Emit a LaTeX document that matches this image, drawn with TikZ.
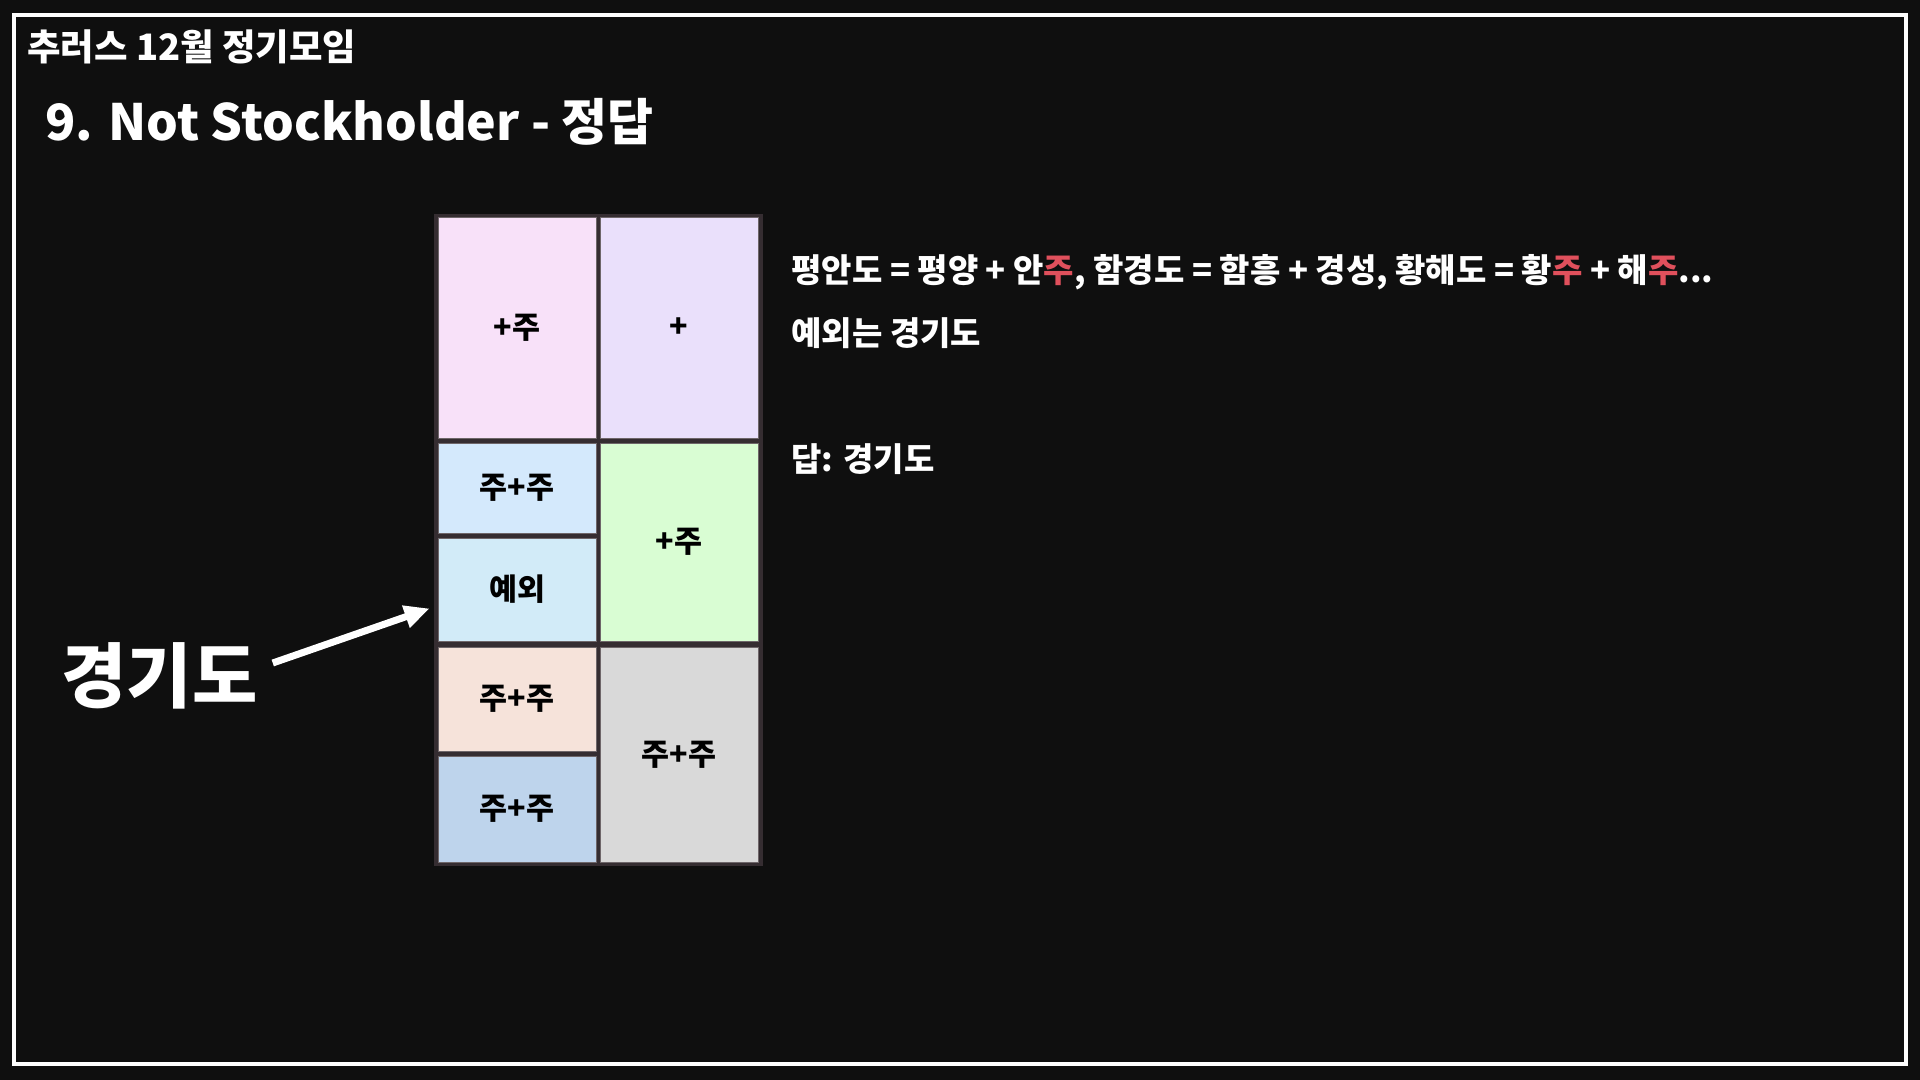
\documentclass[tikz,border=0pt]{standalone}
\usepackage{fontspec}
\setmainfont{Noto Sans CJK KR}
\usetikzlibrary{arrows.meta}
\definecolor{pagebg}{HTML}{0F0F0F}
\definecolor{gridbg}{HTML}{352D31}
\definecolor{cellline}{HTML}{6E6669}
\definecolor{cpink}{HTML}{F8E1F9}
\definecolor{clav}{HTML}{EAE0FB}
\definecolor{cblue}{HTML}{D4E9FC}
\definecolor{csky}{HTML}{D2EBF8}
\definecolor{cgreen}{HTML}{D9FDD3}
\definecolor{cpeach}{HTML}{F6E3DA}
\definecolor{csteel}{HTML}{BED4EC}
\definecolor{cgray}{HTML}{D9D9D9}
\definecolor{hired}{HTML}{E0505C}
\tikzset{
	cell/.style={draw=cellline, line width=0.5pt, inner sep=0pt, minimum width=79pt,
		text=black, font=\fontsize{15.2}{17}\selectfont\bfseries},
	note/.style={anchor=west, inner sep=0pt, text=white, font=\fontsize{16.5}{19}\selectfont\bfseries},
	pointer/.style={draw=white, line width=3.5pt, -{Triangle[length=12.5pt, width=11pt]}}
}
\begin{document}
\begin{tikzpicture}[x=0.5pt,y=-0.5pt]
	\useasboundingbox (0,0) rectangle (1920,1080);
	\fill[pagebg] (0,0) rectangle (1920,1080);
	\draw[white, line width=2pt] (14,15.5) rectangle (1906,1064);
	% headings
	\path (27,47) node [anchor=west, inner sep=0pt, text=white, font=\fontsize{18.2}{21}\selectfont\bfseries] (club) {추러스 12월 정기모임};
	\path (45,122) node [anchor=west, inner sep=0pt, text=white, font=\fontsize{25}{30}\selectfont\bfseries] (title) {9. Not Stockholder - 정답};
	% grid of cells
	\fill[gridbg] (434,214) rectangle (763,866);
	\node[cell, fill=cpink, minimum height=110pt] (tl) at (517,328) {+주};
	\node[cell, fill=clav, minimum height=110pt] (tr) at (679,328) {+};
	\node[cell, fill=cblue, minimum height=45pt] (ltwo) at (517,488) {주+주};
	\node[cell, fill=csky, minimum height=51.5pt] (exc) at (517,589.5) {예외};
	\node[cell, fill=cgreen, minimum height=99pt] (rtwo) at (679,542) {+주};
	\node[cell, fill=cpeach, minimum height=52pt] (lfour) at (517,699) {주+주};
	\node[cell, fill=csteel, minimum height=53pt] (lfive) at (517,809) {주+주};
	\node[cell, fill=cgray, minimum height=107.5pt] (rthree) at (679,754.5) {주+주};
	% explanation
	\path (791,272) node [note] (rule) {평안도 = 평양 + 안\textcolor{hired}{주}, 함경도 = 함흥 + 경성, 황해도 = 황\textcolor{hired}{주} + 해\textcolor{hired}{주}...};
	\path (791,333) node [note] (except) {예외는 경기도};
	\path (791,459) node [note] (answer) {답: 경기도};
	% big label and arrow
	\path (61,676) node [anchor=west, inner sep=0pt, text=white, font=\fontsize{35.5}{40}\selectfont\bfseries] (gyeonggi) {경기도};
	\draw[pointer] ([shift={(15,-13)}]gyeonggi.east) -- ([shift={(-8,19)}]exc.west);
\end{tikzpicture}
\end{document}
